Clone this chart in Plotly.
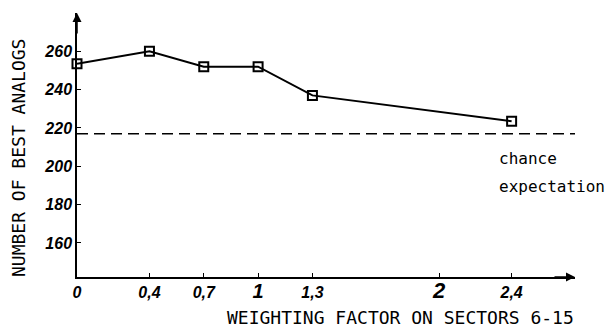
import plotly.graph_objects as go

weights = [0, 0.4, 0.7, 1, 1.3, 2.4]
best_analogs = [253.5, 260, 252, 252, 237, 223.5]
chance_level = 217

x_tick_vals = [0, 0.4, 0.7, 1, 1.3, 2, 2.4]
x_tick_text = ["0", "0,4", "0,7", "<span style='font-size:20px'>1</span>", "1,3",
               "<span style='font-size:22px'>2</span>", "2,4"]
y_tick_vals = [160, 180, 200, 220, 240, 260]

X_MAX = 2.75
Y_MIN, Y_MAX = 142.2, 280

W, H = 609, 328
L, R, T, B = 77, 34, 13, 51


def px_to_paper(px, py):
    return (px - L) / (W - L - R), 1 - (py - T) / (H - T - B)


fig = go.Figure()
fig.add_trace(go.Scatter(
    x=weights, y=best_analogs, mode="lines+markers",
    line=dict(color="black", width=2),
    marker=dict(symbol="square-open", size=9, color="black", line=dict(width=2, color="black")),
    cliponaxis=False, showlegend=False,
))

fig.add_shape(type="line", xref="x", yref="y", x0=0, x1=X_MAX, y0=chance_level, y1=chance_level,
              line=dict(color="black", width=1.5, dash="11px,6px"))

mono = "DejaVu Sans Mono"
fig.add_annotation(x=0, y=Y_MAX, xref="x", yref="y", ax=0, ay=22, showarrow=True,
                   arrowhead=2, arrowsize=1.2, arrowwidth=1.5, arrowcolor="black", text="")
fig.add_annotation(x=X_MAX, y=Y_MIN, xref="x", yref="y", ax=-22, ay=0, showarrow=True,
                   arrowhead=2, arrowsize=1.2, arrowwidth=1.5, arrowcolor="black", text="")

for txt, px, py in [("chance", 497, 158), ("expectation", 497, 186)]:
    x, y = px_to_paper(px, py)
    fig.add_annotation(text=txt, x=x, y=y, xref="paper", yref="paper", showarrow=False,
                       font=dict(family=mono, size=16, color="black"), xanchor="left", yanchor="middle")

x, y = px_to_paper(576, 317)
fig.add_annotation(text="WEIGHTING FACTOR ON SECTORS 6-15", x=x, y=y, xref="paper", yref="paper",
                   showarrow=False, font=dict(family=mono, size=18, color="black"),
                   xanchor="right", yanchor="middle")
x, y = px_to_paper(18, 158)
fig.add_annotation(text="NUMBER OF BEST ANALOGS", x=x, y=y, xref="paper", yref="paper", textangle=-90,
                   showarrow=False, font=dict(family=mono, size=18, color="black"),
                   xanchor="center", yanchor="middle")

tick_font = dict(family="Liberation Sans", size=16, color="black", style="italic", weight="bold")
fig.update_layout(
    width=W, height=H, margin=dict(l=L, r=R, t=T, b=B),
    paper_bgcolor="white", plot_bgcolor="white",
    xaxis=dict(range=[0, X_MAX], showgrid=False, zeroline=False, showline=True,
               linecolor="black", linewidth=1.5, ticks="inside", ticklen=4, tickcolor="black",
               tickvals=x_tick_vals, ticktext=x_tick_text, tickfont=tick_font),
    yaxis=dict(range=[Y_MIN, Y_MAX], showgrid=False, zeroline=False, showline=True,
               linecolor="black", linewidth=1.5, ticks="inside", ticklen=4, tickcolor="black",
               tickvals=y_tick_vals, tickfont=tick_font),
)

fig.write_html("out.html")
